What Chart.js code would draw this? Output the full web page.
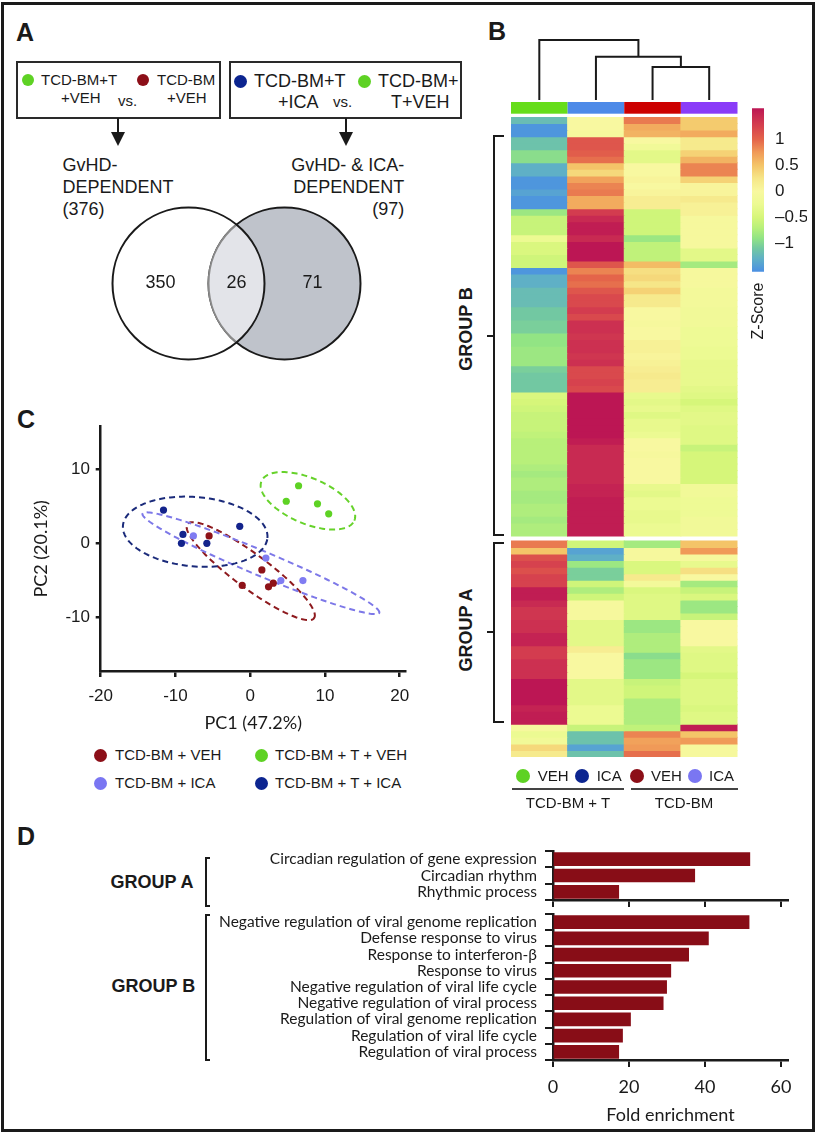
<!DOCTYPE html>
<html>
<head>
<meta charset="utf-8">
<script src="https://cdn.jsdelivr.net/npm/chart.js@4.4.1/dist/chart.umd.min.js"></script>
<style>
  html, body { margin: 0; padding: 0; background: #fff; }
  #fig { position: relative; width: 817px; height: 1134px; overflow: hidden;
         font-family: "Liberation Sans", Arial, sans-serif; color: #1a1a1a; }
  .frame { position: absolute; left: 1px; top: 2px; width: 814px; height: 1130px;
           border: 3px solid #1a1a1a; box-sizing: border-box; }
  .t { position: absolute; white-space: nowrap; line-height: 20px; height: 20px; }
  .pl { font-weight: bold; font-size: 25px; line-height: 28px; height: 28px; }
  .grp { font-weight: bold; font-size: 18px; }
  .rot { transform: rotate(-90deg); text-align: center; }
  .dot { position: absolute; border-radius: 50%; }
  .box { position: absolute; border: 2px solid #2a2a2a; box-sizing: border-box; }
  .ln { position: absolute; background: #1a1a1a; }
  .brk { position: absolute; border: 2px solid #1a1a1a; border-right: none; box-sizing: border-box; }
  canvas { position: absolute; }
</style>
</head>
<body>
<div id="fig">
  <div class="frame"></div>

  <!-- Panel A -->
  <div class="t pl" style="left:16px;top:18px">A</div>
  <div class="box" style="left:16px;top:61px;width:205px;height:58px"></div>
  <div class="dot" style="left:22px;top:74px;width:12px;height:12px;background:#5ed224"></div>
  <div class="t" style="left:41px;top:70px;font-size:15px">TCD-BM+T</div>
  <div class="t" style="left:61px;top:88px;font-size:15px">+VEH</div>
  <div class="t" style="left:118px;top:91px;font-size:15px">vs.</div>
  <div class="dot" style="left:136.5px;top:74px;width:12px;height:12px;background:#8c0f18"></div>
  <div class="t" style="left:157px;top:70px;font-size:15px">TCD-BM</div>
  <div class="t" style="left:167px;top:88px;font-size:15px">+VEH</div>

  <div class="box" style="left:229px;top:61px;width:233px;height:58px"></div>
  <div class="dot" style="left:234px;top:74.5px;width:13px;height:13px;background:#0c2590"></div>
  <div class="t" style="left:254px;top:71px;font-size:18px">TCD-BM+T</div>
  <div class="t" style="left:278px;top:92px;font-size:18px">+ICA</div>
  <div class="t" style="left:333px;top:92px;font-size:15px">vs.</div>
  <div class="dot" style="left:357.5px;top:74.5px;width:13px;height:13px;background:#5ed224"></div>
  <div class="t" style="left:378px;top:71px;font-size:18px">TCD-BM+</div>
  <div class="t" style="left:391px;top:92px;font-size:18px">T+VEH</div>

  <div class="ln" style="left:117px;top:118px;width:2px;height:16px"></div>
  <div style="position:absolute;left:111px;top:132px;width:0;height:0;border-left:7px solid transparent;border-right:7px solid transparent;border-top:14px solid #1a1a1a"></div>
  <div class="ln" style="left:344.5px;top:118px;width:2px;height:16px"></div>
  <div style="position:absolute;left:338.5px;top:132px;width:0;height:0;border-left:7px solid transparent;border-right:7px solid transparent;border-top:14px solid #1a1a1a"></div>

  <div class="t" style="left:62.5px;top:155px;font-size:18px">GvHD-</div>
  <div class="t" style="left:62.5px;top:177px;font-size:18px">DEPENDENT</div>
  <div class="t" style="left:62.5px;top:199px;font-size:18px">(376)</div>
  <div class="t" style="right:412.7px;top:155px;font-size:18px;text-align:right">GvHD- &amp; ICA-</div>
  <div class="t" style="right:412.7px;top:177px;font-size:18px;text-align:right">DEPENDENT</div>
  <div class="t" style="right:412.7px;top:199px;font-size:18px;text-align:right">(97)</div>

  <canvas id="venn" width="251" height="155" style="left:111px;top:206px"></canvas>

  <!-- Panel B -->
  <div class="t pl" style="left:488px;top:17px">B</div>
  <canvas id="heat" width="245" height="732" style="left:505px;top:30px"></canvas>
  <canvas id="zbar" width="62" height="190" style="left:745px;top:95px"></canvas>
  <div class="t rot" style="left:718px;top:301px;width:80px;font-size:16px">Z-Score</div>

  <div class="t grp rot" style="left:416px;top:319px;width:100px">GROUP B</div>
  <div class="brk" style="left:493px;top:135px;width:11px;height:401px"></div>
  <div class="ln" style="left:487px;top:335px;width:7px;height:2px"></div>
  <div class="t grp rot" style="left:416px;top:620px;width:100px">GROUP A</div>
  <div class="brk" style="left:493px;top:542px;width:11px;height:181px"></div>
  <div class="ln" style="left:487px;top:631px;width:7px;height:2px"></div>

  <div class="dot" style="left:516.3px;top:769px;width:14px;height:14px;background:#5ed224"></div>
  <div class="t" style="left:537.7px;top:766px;font-size:15px">VEH</div>
  <div class="dot" style="left:574.7px;top:769px;width:14px;height:14px;background:#0c2590"></div>
  <div class="t" style="left:596.7px;top:766px;font-size:15px">ICA</div>
  <div class="dot" style="left:629.7px;top:769px;width:14px;height:14px;background:#8c0f18"></div>
  <div class="t" style="left:651px;top:766px;font-size:15px">VEH</div>
  <div class="dot" style="left:688px;top:769px;width:14px;height:14px;background:#7a76f2"></div>
  <div class="t" style="left:709px;top:766px;font-size:15px">ICA</div>
  <div class="ln" style="left:512px;top:788.3px;width:112px;height:2px;background:#444"></div>
  <div class="ln" style="left:630.7px;top:788.3px;width:107px;height:2px;background:#444"></div>
  <div class="t" style="left:518px;top:793px;width:100px;text-align:center;font-size:15px">TCD-BM + T</div>
  <div class="t" style="left:634px;top:793px;width:100px;text-align:center;font-size:15px">TCD-BM</div>

  <!-- Panel C -->
  <div class="t pl" style="left:17px;top:405px">C</div>
  <canvas id="pca" width="400" height="324" style="left:30px;top:410px"></canvas>
  <div class="dot" style="left:93.5px;top:748.5px;width:13px;height:13px;background:#8c0f18"></div>
  <div class="t" style="left:115px;top:745px;font-size:15px">TCD-BM + VEH</div>
  <div class="dot" style="left:254.5px;top:748.5px;width:13px;height:13px;background:#5ed224"></div>
  <div class="t" style="left:275px;top:745px;font-size:15px">TCD-BM + T + VEH</div>
  <div class="dot" style="left:93.5px;top:776.5px;width:13px;height:13px;background:#7a76f2"></div>
  <div class="t" style="left:115px;top:773px;font-size:15px">TCD-BM + ICA</div>
  <div class="dot" style="left:254.5px;top:776.5px;width:13px;height:13px;background:#0c2590"></div>
  <div class="t" style="left:275px;top:773px;font-size:15px">TCD-BM + T + ICA</div>

  <!-- Panel D -->
  <div class="t pl" style="left:17px;top:822px">D</div>
  <div class="t grp" style="left:110.5px;top:871.7px">GROUP A</div>
  <div class="brk" style="left:205px;top:857px;width:5px;height:50px"></div>
  <div class="t grp" style="left:111.5px;top:976px">GROUP B</div>
  <div class="brk" style="left:205px;top:914px;width:5px;height:147px"></div>
  <canvas id="foldA" width="600" height="70" style="left:200px;top:840px"></canvas>
  <canvas id="foldB" width="600" height="225" style="left:200px;top:905px"></canvas>
</div>

<script>
// ---------- data ----------
// A: Venn counts (GvHD only, shared, GvHD & ICA only)
const vennCounts = [350, 26, 71];

// B: heatmap z-scores, rows top to bottom (first 64 rows above the split)
const heatColumns = ["TCD-BM + T VEH", "TCD-BM + T ICA", "TCD-BM VEH", "TCD-BM ICA"];
const heatSplitRow = 64;
const zVehT = [
  -1.2, -1.5, -1.5, -1.15, -1.15, -0.95, -0.95, -1.3, -1.3, -1.5,
  -1.5, -1.4, -1.5, -1.5, -0.85, -0.6, -0.6, -0.6, -0.25, -0.45,
  -0.45, -0.55, -0.55, -1.5, -1.3, -1.3, -1.2, -1.2, -1.2, -1.1,
  -1.1, -1.05, -1.05, -0.9, -0.9, -0.85, -0.85, -0.85, -1.05, -1.1,
  -1.1, -1.1, -0.45, -0.5, -0.55, -0.6, -0.6, -0.6, -0.65, -0.7,
  -0.7, -0.7, -0.7, -0.75, -0.8, -0.75, -0.75, -0.8, -0.8, -0.75,
  -0.75, -0.8, -0.75, -0.75,
  0.9, 0.5, 1.15, 1.25, 1.15, 1.25, 1.25, 1.55, 1.55, 1.45,
  1.35, 1.35, 1.4, 1.4, 1.5, 1.5, 1.3, 1.3, 1.4, 1.4,
  1.4, 1.6, 1.6, 1.6, 1.6, 1.5, 1.55, 1.55, -0.05, -0.25,
  -0.15, 0.35, 0.2
];
const zIcaT = [
  0.0, 0.0, -0.05, 1.1, 1.1, 1.05, 0.95, 0.5, 0.35, 0.7,
  0.85, 0.9, 0.65, 0.65, 1.3, 1.45, 1.55, 1.55, 1.45, 1.6,
  1.6, 1.6, 1.1, 0.85, 1.0, 0.95, 1.1, 1.2, 1.2, 1.3,
  1.2, 1.4, 1.4, 1.35, 1.4, 1.4, 1.35, 1.4, 1.2, 1.2,
  1.25, 1.2, 1.6, 1.6, 1.6, 1.6, 1.6, 1.6, 1.6, 1.55,
  1.45, 1.45, 1.45, 1.45, 1.45, 1.45, 1.5, 1.5, 1.55, 1.55,
  1.55, 1.55, 1.55, 1.55,
  -0.55, -1.4, -1.3, -0.85, -1.05, -1.05, -0.55, -0.75, -0.55, -0.05,
  -0.05, -0.05, -0.35, -0.35, -0.35, -0.35, 0.15, 0.0, 0.0, 0.0,
  0.0, -0.35, -0.35, -0.35, -0.35, -0.25, -0.25, -0.25, -0.6, -1.15,
  -1.15, -1.4, -1.15
];
const zVehBm = [
  0.9, 0.65, 0.6, 0.0, -0.15, -0.35, -0.35, 0.0, 0.0, 0.05,
  0.0, 0.05, 0.15, 0.15, -0.55, -0.55, -0.55, -0.55, -0.85, -0.65,
  -0.65, -0.65, 0.55, 0.3, 0.35, 0.25, 0.4, 0.2, 0.2, 0.0,
  0.0, -0.05, 0.0, 0.0, 0.1, 0.1, 0.05, 0.1, 0.15, 0.2,
  0.15, 0.15, -0.3, -0.35, -0.3, -0.4, -0.3, -0.3, -0.25, 0.0,
  0.0, -0.05, 0.0, 0.0, 0.0, 0.0, -0.3, -0.35, -0.25, -0.25,
  -0.3, -0.3, -0.25, -0.25,
  -0.8, -0.05, -0.05, -0.45, -0.45, 0.2, -0.1, -0.45, -0.4, -0.4,
  -0.4, -0.4, -0.85, -0.85, -0.75, -0.75, -0.75, -0.95, -0.85, -0.85,
  -0.85, -0.6, -0.55, -0.55, -0.75, -0.75, -0.75, -0.75, -0.65, 0.85,
  0.7, 0.75, 0.95
];
const zIcaBm = [
  0.45, 0.45, 0.65, 0.2, 0.2, 0.4, 0.6, 0.85, 0.85, 0.4,
  0.05, 0.05, 0.2, 0.1, 0.1, -0.05, -0.05, -0.05, -0.05, -0.05,
  -0.35, -0.35, -0.8, -0.05, -0.05, -0.05, -0.1, -0.1, -0.1, -0.15,
  -0.15, -0.15, -0.2, -0.2, -0.2, -0.25, -0.25, -0.3, -0.3, -0.3,
  -0.3, -0.35, -0.4, -0.5, -0.4, -0.35, -0.35, -0.4, -0.4, -0.4,
  -0.6, -0.5, -0.5, -0.5, -0.5, -0.5, -0.15, -0.15, -0.2, -0.2,
  -0.2, -0.15, -0.15, -0.15,
  0.5, 0.75, -0.05, -0.3, 0.3, 0.0, -0.8, -0.6, -0.45, -0.85,
  -0.85, -0.6, 0.0, 0.0, 0.0, 0.0, -0.35, -0.4, -0.4, -0.4,
  -0.5, -0.4, -0.4, -0.4, -0.4, -0.45, -0.4, -0.4, 1.55, 0.5,
  0.75, -0.05, -0.05
];
// dendrogram merges: [node, node, height]; leaves 0-3, new nodes numbered from 4
const dendroMerges = [[2, 3, 0.55], [1, 4, 0.72], [0, 5, 1.0]];
const zTicks = [1, 0.5, 0, -0.5, -1];
const zRange = [-1.55, 1.6];

// C: PCA scores
const pcaVehBmX = [-5.5, 1.56, -1.07, 2.45, 3.08];
const pcaVehBmY = [1.0, -3.6, -5.7, -5.9, -5.4];
const pcaIcaBmX = [-7.6, 2.1, 4.1, 7.05];
const pcaIcaBmY = [1.0, -2.0, -5.05, -5.05];
const pcaVehTX = [6.47, 4.82, 9.0, 10.5];
const pcaVehTY = [7.8, 5.7, 5.35, 4.0];
const pcaIcaTX = [-11.6, -9.0, -9.2, -5.8, -1.4];
const pcaIcaTY = [4.5, 1.2, 0.0, 0.0, 2.3];
// 95% ellipses: [centre x, centre y, semi-major, semi-minor, angle deg]
const ellVehBm = [0.07, -3.77, 10.6, 2.3, -37];
const ellIcaBm = [1.43, -2.7, 17.2, 1.67, -23];
const ellVehT = [7.72, 5.76, 6.76, 3.08, -23.4];
const ellIcaT = [-7.36, 1.57, 9.7, 4.7, -5];
const pcaTicksX = [-20, -10, 0, 10, 20];
const pcaTicksY = [-10, 0, 10];

// D: GO enrichment
const goTermsA = ["Circadian regulation of gene expression", "Circadian rhythm", "Rhythmic process"];
const foldA = [51.8, 37.3, 17.3];
const goTermsB = [
  "Negative regulation of viral genome replication", "Defense response to virus",
  "Response to interferon-\u03B2", "Response to virus", "Negative regulation of viral life cycle",
  "Negative regulation of viral process", "Regulation of viral genome replication",
  "Regulation of viral life cycle", "Regulation of viral process"
];
const foldB = [51.6, 40.9, 35.7, 31.0, 29.9, 29.0, 20.4, 18.3, 17.3];
const foldTicks = [0, 20, 40, 60];

// ---------- helpers ----------
Chart.defaults.font.family = "'Liberation Sans', Arial, sans-serif";
Chart.defaults.color = "#1a1a1a";
const INK = "#1a1a1a";
const noPlugins = { legend: { display: false }, tooltip: { enabled: false } };

// z-score colour scale (blue - green - yellow - red)
const zStops = [
  [-1.55, "#4a8fe3"], [-1.3, "#5fb0c6"], [-1.1, "#72c8a2"], [-0.9, "#92e484"],
  [-0.7, "#b8f07a"], [-0.5, "#d6f67a"], [-0.25, "#ecfa92"], [0, "#f8f8a0"],
  [0.25, "#f6e688"], [0.5, "#f4c468"], [0.75, "#f09a58"], [1.0, "#e4644a"],
  [1.25, "#d6424e"], [1.45, "#c82a52"], [1.6, "#bc1654"]
];
function hex(c) { return [1, 3, 5].map(i => parseInt(c.slice(i, i + 2), 16)); }
function zColor(z) {
  if (z <= zStops[0][0]) return zStops[0][1];
  for (let i = 1; i < zStops.length; i++) {
    if (z <= zStops[i][0]) {
      const [z0, c0] = zStops[i - 1], [z1, c1] = zStops[i];
      const f = (z - z0) / (z1 - z0), a = hex(c0), b = hex(c1);
      return "rgb(" + a.map((v, k) => Math.round(v + (b[k] - v) * f)).join(",") + ")";
    }
  }
  return zStops[zStops.length - 1][1];
}
function fixTicks(list) { return s => { s.ticks = list.map(v => ({ value: v })); }; }

// ---------- A: Venn ----------
const vennPlugin = {
  id: "venn",
  afterDraw(chart) {
    const { ctx, chartArea: a } = chart;
    const counts = chart.data.datasets[0].data;
    const r = (a.bottom - a.top - 3) / 2, cy = (a.top + a.bottom) / 2;
    const lx = a.left + 1.5 + r, rx = a.right - 1.5 - r;
    const circ = x => { ctx.beginPath(); ctx.arc(x, cy, r, 0, Math.PI * 2); };
    ctx.save();
    circ(lx); ctx.fillStyle = "#fff"; ctx.fill();
    circ(rx); ctx.fillStyle = "#bfc3cb"; ctx.fill();
    ctx.lineWidth = 2;
    circ(rx); ctx.strokeStyle = INK; ctx.stroke();
    ctx.save();
    circ(lx); ctx.clip();
    circ(rx); ctx.fillStyle = "#e3e4e9"; ctx.fill();
    ctx.strokeStyle = "#8a8a8a"; ctx.stroke();
    ctx.restore();
    circ(lx); ctx.strokeStyle = INK; ctx.stroke();
    ctx.fillStyle = INK;
    ctx.font = "18px 'Liberation Sans', Arial, sans-serif";
    ctx.textAlign = "center"; ctx.textBaseline = "middle";
    const lensL = rx - r, lensR = lx + r;
    ctx.fillText(String(counts[0]), (lx - r + lensL) / 2, cy);
    ctx.fillText(String(counts[1]), (lensL + lensR) / 2, cy);
    ctx.fillText(String(counts[2]), (lensR + rx + r) / 2, cy);
    ctx.restore();
  }
};
new Chart(document.getElementById("venn"), {
  type: "bar",
  data: { labels: ["GvHD only", "shared", "GvHD & ICA only"], datasets: [{ data: vennCounts, hidden: true }] },
  options: {
    responsive: false, animation: false, events: [],
    layout: { padding: 0 },
    scales: { x: { display: false }, y: { display: false } },
    plugins: noPlugins
  },
  plugins: [vennPlugin]
});

// ---------- B: heatmap ----------
const stripColors = ["#66dd1a", "#4d8ae8", "#cc0000", "#8a3cf8"];
const gapRows = 0.76;
const rowCount = zVehT.length;
function rowSpan(i) { const y0 = i < heatSplitRow ? i : i + gapRows; return [y0, y0 + 1]; }

const heatSets = zVehT.map((_, i) => {
  const zs = [zVehT[i], zIcaT[i], zVehBm[i], zIcaBm[i]];
  return {
    data: zs.map(() => rowSpan(i)),
    backgroundColor: zs.map(zColor),
    borderWidth: 0, inflateAmount: 0.5,
    grouped: false, categoryPercentage: 1, barPercentage: 1
  };
});

const heatDecor = {
  id: "heatDecor",
  afterDraw(chart) {
    const { ctx, chartArea, scales: { x } } = chart;
    const colX = heatColumns.map((c, i) => x.getPixelForValue(i));
    const half = (colX[1] - colX[0]) / 2;
    ctx.save();
    stripColors.forEach((c, i) => {
      ctx.fillStyle = c;
      ctx.fillRect(colX[i] - half, chartArea.top - 15, half * 2, 11.7);
    });
    const leafY = chartArea.top - 17, unit = 60;
    const nodes = colX.map(px => ({ x: px, y: leafY }));
    ctx.strokeStyle = INK; ctx.lineWidth = 2;
    dendroMerges.forEach(([a, b, h]) => {
      const y = leafY - h * unit, A = nodes[a], B = nodes[b];
      ctx.beginPath();
      ctx.moveTo(A.x, A.y); ctx.lineTo(A.x, y); ctx.lineTo(B.x, y); ctx.lineTo(B.x, B.y);
      ctx.stroke();
      nodes.push({ x: (A.x + B.x) / 2, y });
    });
    ctx.restore();
  }
};

new Chart(document.getElementById("heat"), {
  type: "bar",
  data: { labels: heatColumns, datasets: heatSets },
  options: {
    responsive: false, animation: false, events: [],
    layout: { padding: { left: 6, right: 12.5, top: 87, bottom: 5 } },
    scales: {
      x: { display: false },
      y: { display: false, reverse: true, min: 0, max: rowCount + gapRows }
    },
    plugins: noPlugins
  },
  plugins: [heatDecor]
});

// colour key
function zGradient(chart) {
  const area = chart.chartArea;
  if (!area) return "#fff";
  const g = chart.ctx.createLinearGradient(0, area.bottom, 0, area.top);
  zStops.forEach(([z, c]) => g.addColorStop((z - zRange[0]) / (zRange[1] - zRange[0]), c));
  return g;
}
new Chart(document.getElementById("zbar"), {
  type: "bar",
  data: { labels: ["z"], datasets: [{ data: [zRange], backgroundColor: c => zGradient(c.chart),
    borderWidth: 0, categoryPercentage: 1, barPercentage: 1 }] },
  options: {
    responsive: false, animation: false, events: [],
    layout: { padding: { left: 7, top: 9.3, bottom: 12, right: 0 } },
    scales: {
      x: { display: false },
      y: {
        position: "right", min: zRange[0], max: zRange[1],
        grid: { display: false }, border: { display: false },
        afterBuildTicks: fixTicks(zTicks),
        afterFit: s => { s.width = 43; },
        ticks: { padding: 3, font: { size: 17 },
          callback: v => (v < 0 ? "\u2013" + Math.abs(v) : String(v)) }
      }
    },
    plugins: noPlugins
  }
});

// ---------- C: PCA ----------
const pcaGroups = [
  { label: "TCD-BM + VEH", xs: pcaVehBmX, ys: pcaVehBmY, ell: ellVehBm, dot: "#8e1218", line: "#8e1a1e" },
  { label: "TCD-BM + ICA", xs: pcaIcaBmX, ys: pcaIcaBmY, ell: ellIcaBm, dot: "#807cf2", line: "#7d78e8" },
  { label: "TCD-BM + T + VEH", xs: pcaVehTX, ys: pcaVehTY, ell: ellVehT, dot: "#5ed224", line: "#66d22a" },
  { label: "TCD-BM + T + ICA", xs: pcaIcaTX, ys: pcaIcaTY, ell: ellIcaT, dot: "#13238c", line: "#1a2a7a" }
];
const ellipsePlugin = {
  id: "ellipses",
  beforeDatasetsDraw(chart) {
    const { ctx, scales: { x, y } } = chart;
    pcaGroups.forEach(g => {
      const [cx, cy, a, b, deg] = g.ell;
      const th = deg * Math.PI / 180;
      ctx.save();
      ctx.beginPath();
      for (let k = 0; k <= 160; k++) {
        const t = k / 160 * Math.PI * 2;
        const ex = cx + a * Math.cos(t) * Math.cos(th) - b * Math.sin(t) * Math.sin(th);
        const ey = cy + a * Math.cos(t) * Math.sin(th) + b * Math.sin(t) * Math.cos(th);
        const px = x.getPixelForValue(ex), py = y.getPixelForValue(ey);
        if (k) ctx.lineTo(px, py); else ctx.moveTo(px, py);
      }
      ctx.closePath();
      ctx.setLineDash([6, 4]);
      ctx.lineWidth = 2;
      ctx.strokeStyle = g.line;
      ctx.stroke();
      ctx.restore();
    });
  }
};
const axisGrid = { drawOnChartArea: false, color: INK, lineWidth: 2.5 };
new Chart(document.getElementById("pca"), {
  type: "scatter",
  data: {
    datasets: pcaGroups.map(g => ({
      label: g.label,
      data: g.xs.map((x, i) => ({ x, y: g.ys[i] })),
      backgroundColor: g.dot, pointRadius: 3.6, pointBorderWidth: 0
    }))
  },
  options: {
    responsive: false, animation: false, events: [],
    layout: { padding: { left: 0, top: 16.7, right: 24.3, bottom: 0 } },
    scales: {
      x: {
        min: -20, max: 20.8,
        afterBuildTicks: fixTicks(pcaTicksX),
        afterFit: s => { s.height = 63; },
        grid: { ...axisGrid, tickLength: 6 },
        border: { color: INK, width: 2.5 },
        ticks: { padding: 9, font: { size: 17 }, maxRotation: 0 },
        title: { display: true, text: "PC1 (47.2%)", font: { family: "Lato", size: 18 }, padding: { top: 0, bottom: 0 } }
      },
      y: {
        min: -17.3, max: 15.8,
        afterBuildTicks: fixTicks(pcaTicksY),
        afterFit: s => { s.width = 70.7; },
        grid: { ...axisGrid, tickLength: 5 },
        border: { color: INK, width: 2.5 },
        ticks: { padding: 5.7, font: { size: 17 } },
        title: { display: true, text: "PC2 (20.1%)", font: { family: "Lato", size: 18 }, padding: { top: 0, bottom: 0 } }
      }
    },
    plugins: noPlugins
  },
  plugins: [ellipsePlugin]
});

// ---------- D: fold enrichment ----------
function foldChart(id, terms, folds, showAxis, axisHeight, padTop) {
  return new Chart(document.getElementById(id), {
    type: "bar",
    data: { labels: terms, datasets: [{ data: folds, backgroundColor: "#880d17", barThickness: 13 }] },
    options: {
      indexAxis: "y",
      responsive: false, animation: false, events: [],
      layout: { padding: { left: 0, top: padTop, right: 12, bottom: 0 } },
      scales: {
        x: {
          min: 0, max: 61.84,
          afterBuildTicks: fixTicks(foldTicks),
          afterFit: s => { s.height = axisHeight; s.paddingLeft = 0; s.paddingRight = 0; },
          grid: { drawOnChartArea: false, color: INK, lineWidth: 2, tickLength: 7 },
          border: { color: INK, width: 2.5 },
          ticks: { display: showAxis, padding: 9, font: { family: "Lato", size: 18 } },
          title: { display: showAxis, text: "Fold enrichment", font: { family: "Lato", size: 18 }, padding: { top: 0, bottom: 4 } }
        },
        y: {
          afterFit: s => { s.width = 353; s.paddingTop = 0; s.paddingBottom = 0; },
          grid: { drawOnChartArea: false, color: INK, lineWidth: 2, tickLength: 8 },
          border: { color: INK, width: 2.5 },
          ticks: { autoSkip: false, padding: 8, font: { family: "Lato", size: 15.5 } }
        }
      },
      plugins: noPlugins
    }
  });
}
foldChart("foldA", goTermsA, foldA, false, 10, 11);
foldChart("foldB", goTermsB, foldB, true, 70, 9);
</script>
</body>
</html>
